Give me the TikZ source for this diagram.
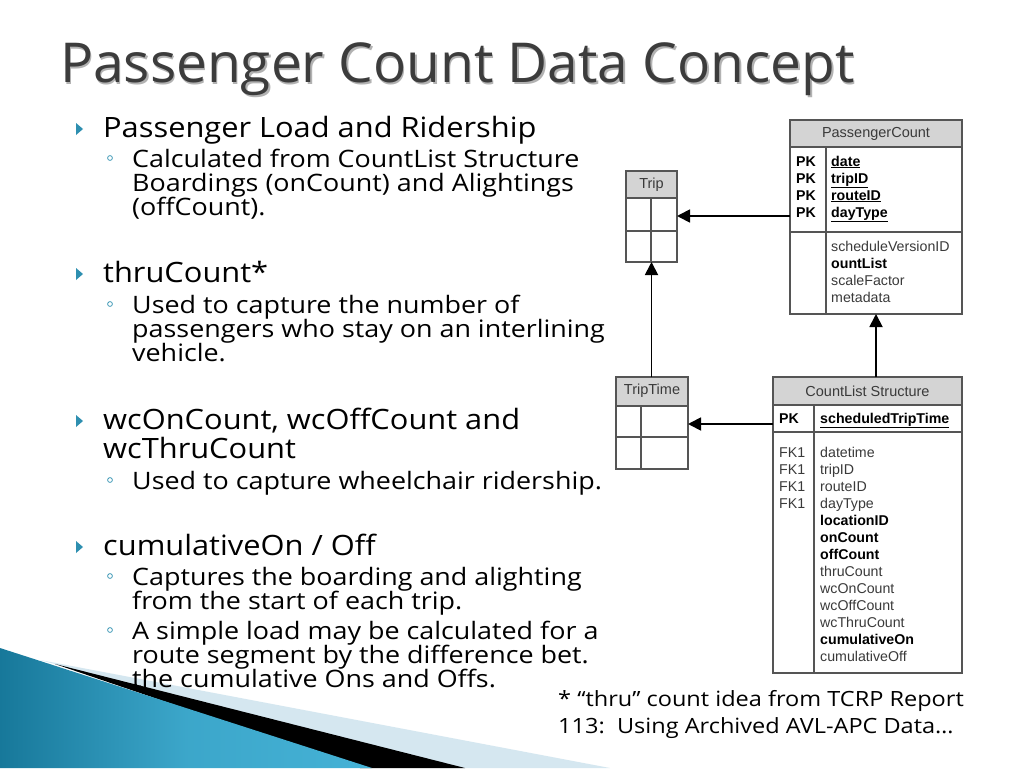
\documentclass[tikz,border=0pt]{standalone}
\usepackage{fontspec}
\setmainfont{Open Sans}
\newfontfamily\onef[FakeStretch=1.10]{Open Sans}
\newfontfamily\twof[FakeStretch=1.12]{Open Sans}
\newfontfamily\arialf{Liberation Sans}
\usetikzlibrary{arrows.meta,shadings}
\definecolor{titlegrey}{HTML}{3C3C3C}
\definecolor{teal}{HTML}{2E8FB0}
\definecolor{tblline}{HTML}{555555}
\definecolor{tblhead}{HTML}{D4D4D4}
\definecolor{tbltext}{HTML}{3A3A3A}
\definecolor{lightwedge}{HTML}{D5E7F0}
\definecolor{bluedark}{HTML}{17789A}
\definecolor{bluelight}{HTML}{45B2D6}
\tikzset{
  titletext/.style={anchor=base west, inner sep=0pt, text=titlegrey, font=\fontsize{55}{60}\selectfont},
  titleshadow/.style={titletext, text=black!30},
  lvlone/.style={anchor=base west, inner sep=0pt, font=\onef\fontsize{28}{30}\selectfont},
  lvltwo/.style={anchor=base west, inner sep=0pt, font=\twof\fontsize{24}{26}\selectfont},
  foot/.style={anchor=base west, inner sep=0pt, font=\twof\fontsize{21}{23}\selectfont},
  tri/.style={fill=teal, draw=none},
  circ/.style={draw=teal, line width=0.7pt},
  tbl/.style={draw=tblline, line width=1.3pt},
  hdr/.style={tbl, fill=tblhead},
  htext/.style={inner sep=0pt, text=tbltext, font=\arialf\fontsize{14.5}{16}\selectfont},
  ftext/.style={anchor=base west, inner sep=0pt, text=tbltext, font=\arialf\fontsize{14.2}{16}\selectfont},
  fbold/.style={anchor=base west, inner sep=0pt, text=black, font=\arialf\bfseries\fontsize{14.2}{16}\selectfont},
  conn/.style={draw=black, line width=1.8pt, -{Triangle[length=13pt,width=13pt]}},
}
\newcommand{\ul}[1]{\underline{#1}}
\begin{document}
\begin{tikzpicture}[x=1pt,y=-1pt]
\useasboundingbox[fill=white] (0,0) rectangle (1024,768);

% bottom-left decoration
\fill[lightwedge] (40,660) -- (610,768) -- (440,768) -- cycle;
\fill[black] (55,664) -- (465,768) -- (360,768) -- cycle;
\shade[left color=bluedark, right color=bluelight, middle color=bluelight!80!bluedark] (0,648) -- (372,768) -- (0,768) -- cycle;

% title
\node[titleshadow] (titles) at (61.5,84) {Passenger Count Data Concept};
\node[titletext] (title) at (60,82) {Passenger Count Data Concept};

% bullets
\newcommand{\triA}[1]{\fill[tri] (76,#1-14) -- (83,#1-8) -- (76,#1-2) -- cycle;}
\newcommand{\circB}[1]{\draw[circ] (110,#1-9) circle (2.4);}

\triA{137}
\node[lvlone] (b1) at (103,137) {Passenger Load and Ridership};
\circB{167}
\node[lvltwo] (b1a) at (132,167) {Calculated from CountList Structure};
\node[lvltwo] (b1b) at (132,191) {Boardings (onCount) and Alightings};
\node[lvltwo] (b1c) at (132,215) {(offCount).};

\triA{282}
\node[lvlone] (b2) at (103,282) {thruCount*};
\circB{313}
\node[lvltwo] (b2a) at (132,313) {Used to capture the number of};
\node[lvltwo] (b2b) at (132,337) {passengers who stay on an interlining};
\node[lvltwo] (b2c) at (132,361) {vehicle.};

\triA{429}
\node[lvlone] (b3) at (103,429) {wcOnCount, wcOffCount and};
\node[lvlone] (b3b) at (103,458) {wcThruCount};
\circB{489}
\node[lvltwo] (b3a) at (132,489) {Used to capture wheelchair ridership.};

\triA{555}
\node[lvlone] (b4) at (103,555) {cumulativeOn / Off};
\circB{585}
\node[lvltwo] (b4a) at (132,585) {Captures the boarding and alighting};
\node[lvltwo] (b4b) at (132,609) {from the start of each trip.};
\circB{639}
\node[lvltwo] (b4c) at (132,639) {A simple load may be calculated for a};
\node[lvltwo] (b4d) at (132,663) {route segment by the difference bet.};
\node[lvltwo] (b4e) at (132,687) {the cumulative Ons and Offs.};

% footnote
\node[foot] (f1) at (558,706) {* “thru” count idea from TCRP Report};
\node[foot] (f2) at (558,733) {113:\ \ Using Archived AVL-APC Data…};

% ---- Trip table
\draw[hdr] (626,171) rectangle (677,198);
\node[htext] (triph) at (651.5,185) {Trip};
\draw[tbl] (626,198) rectangle (677,262);
\draw[tbl] (626,231) -- (677,231);
\draw[tbl] (651,198) -- (651,262);
\coordinate (tripE) at (677,216);
\coordinate (tripS) at (651.5,262);

% ---- PassengerCount table
\draw[hdr] (790,120) rectangle (962,147);
\node[htext] (pch) at (876,134) {PassengerCount};
\draw[tbl] (790,147) rectangle (962,314);
\draw[tbl] (790,232) -- (962,232);
\draw[tbl] (826,147) -- (826,314);
\coordinate (pcW) at (790,216);
\coordinate (pcS) at (876,314);
\foreach \y/\t [count=\i] in {166/date,183/tripID,200/routeID,217/dayType}{
  \node[fbold] (pk\i) at (796,\y) {PK};
  \node[fbold] (pkf\i) at (831,\y) {\ul{\t}};
}
\node[ftext] (pa1) at (831,251) {scheduleVersionID};
\node[fbold] (pa2) at (831,268) {ountList};
\node[ftext] (pa3) at (831,285) {scaleFactor};
\node[ftext] (pa4) at (831,302) {metadata};

% ---- TripTime table
\draw[hdr] (616,377) rectangle (688,406);
\node[htext] (tth) at (652,391) {TripTime};
\draw[tbl] (616,406) rectangle (688,469);
\draw[tbl] (616,437) -- (688,437);
\draw[tbl] (641,406) -- (641,469);
\coordinate (ttE) at (688,424);
\coordinate (ttN) at (651.5,377);

% ---- CountList Structure table
\draw[hdr] (773,377) rectangle (962,405);
\node[htext] (clh) at (867.5,391) {CountList Structure};
\draw[tbl] (773,405) rectangle (962,673);
\draw[tbl] (773,432) -- (962,432);
\draw[tbl] (814,405) -- (814,673);
\coordinate (clW) at (773,424);
\coordinate (clN) at (876,377);
\node[fbold] (clpk) at (779,423) {PK};
\node[fbold] (clpkf) at (820,423) {\ul{scheduledTripTime}};
\foreach \y/\t [count=\i] in {457/datetime,474/tripID,491/routeID,508/dayType}{
  \node[ftext] (fk\i) at (779,\y) {FK1};
  \node[ftext] (fkf\i) at (820,\y) {\t};
}
\node[fbold] (c5) at (820,525) {locationID};
\node[fbold] (c6) at (820,542) {onCount};
\node[fbold] (c7) at (820,559) {offCount};
\node[ftext] (c8) at (820,576) {thruCount};
\node[ftext] (c9) at (820,593) {wcOnCount};
\node[ftext] (c10) at (820,610) {wcOffCount};
\node[ftext] (c11) at (820,627) {wcThruCount};
\node[fbold] (c12) at (820,644) {cumulativeOn};
\node[ftext] (c13) at (820,661) {cumulativeOff};

% connectors
\draw[conn] (pcW) -- (tripE);
\draw[conn] (ttN) -- (tripS);
\draw[conn] (clW) -- (ttE);
\draw[conn] (clN) -- (pcS);
\end{tikzpicture}
\end{document}
